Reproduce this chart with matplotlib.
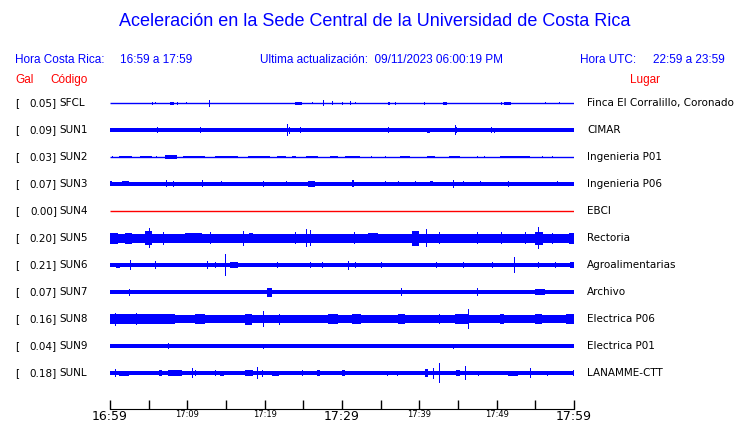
import matplotlib
matplotlib.use('Agg')
import matplotlib.pyplot as plt

W, H = 740, 423

codes = ['SFCL', 'SUN1', 'SUN2', 'SUN3', 'SUN4', 'SUN5', 'SUN6', 'SUN7', 'SUN8', 'SUN9', 'SUNL']
gal = [0.05, 0.09, 0.03, 0.07, 0.00, 0.20, 0.21, 0.07, 0.16, 0.04, 0.18]
places = ['Finca El Corralillo, Coronado', 'CIMAR', 'Ingenieria P01', 'Ingenieria P06', 'EBCI',
          'Rectoria', 'Agroalimentarias', 'Archivo', 'Electrica P06', 'Electrica P01', 'LANAMME-CTT']

# background trace half-width (screen px)
base = [0.5, 1.6, 0.5, 1.7, 0.0, 4.5, 2.0, 1.8, 4.2, 1.6, 1.9]

# visible bursts: (start minute, end minute, half-amplitude px)
bursts = [
    [(5.4, 5.4, 1.5), (5.8, 5.8, 1), (7.8, 8.3, 1.5), (8.7, 8.7, 1.5), (9.8, 9.8, 1), (12.8, 12.9, 3.5),
     (23.9, 24.8, 1.5), (26.1, 26.1, 1), (27.6, 27.7, 3), (28.7, 28.7, 2), (30.0, 30.0, 1.5), (31.0, 31.0, 2),
     (31.7, 31.7, 1), (36.0, 36.2, 1.5), (36.9, 36.9, 1.5), (40.6, 40.7, 1.5), (43.1, 43.6, 1.5),
     (50.6, 50.6, 1.5), (51.0, 51.9, 1.5), (56.2, 56.2, 1), (58.0, 58.0, 1)],
    [(0.0, 6.0, 2), (6.1, 6.2, 3), (11.6, 11.8, 3), (22.9, 22.9, 6), (23.1, 23.1, 3.5), (24.6, 24.7, 3),
     (35.9, 36.0, 3), (41.0, 41.4, 2.5), (44.6, 44.6, 5), (44.8, 44.9, 3), (49.3, 49.3, 3), (49.7, 49.7, 2.5)],
    [(0.2, 0.2, 1.3), (1.1, 2.8, 1.3), (3.9, 5.4, 1.3), (6.0, 6.0, 1.3), (7.1, 8.6, 1.6), (9.5, 12.3, 1.3),
     (13.6, 16.6, 1.3), (17.9, 20.7, 1.3), (21.6, 22.8, 1.3), (23.5, 24.1, 1.3), (25.4, 26.9, 1.3),
     (28.4, 29.5, 1.3), (30.4, 32.3, 1.3), (33.8, 33.8, 1.3), (35.6, 35.7, 1.3), (37.5, 38.8, 1.3),
     (41.0, 42.0, 1.3), (43.8, 45.3, 1.3), (47.4, 47.4, 1.3), (48.3, 48.3, 1.3), (50.4, 54.3, 1.3),
     (55.8, 55.8, 1.3), (57.1, 57.1, 1.3)],
    [(0.0, 0.3, 2.5), (1.5, 2.4, 2.5), (4.1, 5.8, 2.3), (7.3, 7.4, 3.5), (8.2, 8.2, 3), (11.9, 12.0, 3.5),
     (14.4, 14.4, 2.5), (16.6, 17.2, 2.3), (19.8, 19.9, 3), (22.8, 22.8, 2.5), (25.6, 26.5, 2.8),
     (31.3, 31.5, 3.5), (35.6, 35.6, 2.5), (37.3, 37.3, 2.5), (39.4, 39.4, 2.5), (41.4, 41.8, 2.5),
     (44.4, 44.5, 4), (45.7, 45.7, 2.5), (47.8, 47.8, 2.5), (51.5, 51.5, 3), (52.8, 54.1, 2.3),
     (57.8, 57.8, 2.5)],
    [],
    [(0.0, 1.0, 5.5), (2.0, 2.8, 5.5), (4.5, 5.4, 7), (5.0, 5.1, 10), (6.9, 7.0, 6.5), (9.7, 11.9, 5.3),
     (12.9, 13.0, 6), (17.2, 17.3, 7.5), (18.0, 18.5, 5.3), (23.9, 24.0, 6), (25.4, 25.5, 9), (25.9, 26.0, 8),
     (31.5, 31.6, 6), (33.4, 34.7, 5.3), (39.0, 39.9, 7.5), (40.9, 41.0, 9), (42.5, 42.6, 6), (47.4, 47.5, 6),
     (50.6, 50.6, 6), (53.7, 53.8, 6), (55.0, 56.0, 6.5), (55.4, 55.5, 11), (57.1, 57.2, 5.5), (59.3, 60.0, 5.5)],
    [(0.8, 1.3, 2.5), (2.6, 2.7, 5), (5.8, 5.9, 4), (12.5, 12.6, 4), (13.6, 13.7, 3), (14.9, 15.0, 11),
     (15.5, 16.6, 2.6), (21.6, 21.6, 3), (25.9, 26.0, 3), (27.4, 27.6, 2.7), (30.8, 30.9, 4.5), (31.7, 31.8, 3),
     (35.1, 35.1, 3), (42.2, 42.2, 3), (45.7, 45.7, 3), (49.4, 49.4, 3), (52.2, 52.3, 8),
     (55.4, 55.4, 3), (57.5, 57.6, 3), (59.5, 60.0, 2.6)],
    [(1.1, 3.7, 2.3), (2.5, 2.6, 3.5), (5.0, 7.1, 2.3), (9.5, 10.6, 2.3), (12.3, 13.6, 2.3), (15.7, 17.4, 2.3),
     (20.3, 20.9, 4.5), (23.5, 25.2, 2.3), (26.9, 28.3, 2.3), (30.4, 32.1, 2.3), (35.1, 36.0, 2.3),
     (37.6, 37.7, 4), (39.4, 42.5, 2.3), (44.2, 45.0, 2.3), (47.4, 47.5, 4), (48.9, 51.1, 2.3),
     (55.0, 56.3, 2.8), (58.4, 59.7, 2.3)],
    [(0.0, 8.4, 5), (0.7, 0.8, 6.5), (3.4, 3.5, 6), (11.0, 12.3, 4.8), (17.5, 18.3, 5.5), (19.8, 19.9, 8),
     (21.8, 21.9, 5.5), (28.2, 29.5, 4.8), (31.3, 32.5, 5.3), (37.3, 38.1, 4.8), (42.5, 42.6, 5),
     (44.6, 46.3, 5.3), (46.3, 46.4, 10), (50.4, 51.0, 4.8), (55.0, 55.8, 5.3), (59.0, 60.0, 4.8)],
    [(7.5, 7.6, 3), (19.8, 19.8, 2.5), (33.6, 33.6, 2), (44.4, 44.4, 2.5)],
    [(0.6, 0.7, 4), (1.1, 2.4, 2.5), (6.3, 6.7, 3), (7.5, 9.3, 2.6), (10.6, 10.7, 5), (11.0, 11.1, 3),
     (13.6, 13.7, 3), (14.2, 14.8, 2.5), (17.5, 18.5, 3.2), (19.0, 19.1, 6), (19.6, 19.7, 3.5), (20.9, 21.8, 2.5),
     (24.8, 24.9, 3), (26.8, 27.2, 3.2), (30.0, 30.4, 3.2), (35.8, 35.9, 2.5), (37.1, 37.2, 2.5),
     (40.7, 41.1, 4), (41.8, 41.9, 5.5), (42.6, 42.7, 10), (44.8, 45.3, 3.2), (45.9, 46.0, 7),
     (47.6, 47.7, 2.5), (51.5, 52.8, 2.5), (54.3, 54.4, 5), (56.5, 56.6, 2.5), (59.9, 60.0, 3)],
]

major_labels = {0: '16:59', 30: '17:29', 60: '17:59'}
minor_labels = {10: '17:09', 20: '17:19', 40: '17:39', 50: '17:49'}

BLUE = '#0000ff'
RED = '#ff0000'


def fx(x):
    return x / W


def fy(y):
    return 1 - y / H


fig = plt.figure(figsize=(W / 100, H / 100), dpi=100)

# trace area: x in minutes, y in screen pixels (top down)
ax = fig.add_axes([fx(110), fy(409), fx(574) - fx(110), fy(90) - fy(409)])
ax.set_xlim(0, 60)
ax.set_ylim(409, 90)

row_y = [103 + 27 * i for i in range(len(codes))]

for i, y in enumerate(row_y):
    if codes[i] == 'SUN4':
        ax.hlines(y, 0, 60, color=RED, lw=1)
        continue
    if base[i] <= 0.6:
        ax.hlines(y, 0, 60, color=BLUE, lw=1)
    else:
        ax.fill_between([0, 60], y - base[i], y + base[i], color=BLUE, lw=0)
    if bursts[i]:
        t0 = [b[0] for b in bursts[i]]
        wd = [max(b[1] - b[0], 0.13) for b in bursts[i]]
        hh = [b[2] for b in bursts[i]]
        ax.bar(t0, [2 * h for h in hh], width=wd, bottom=[y - h for h in hh],
               align='edge', color=BLUE, lw=0)

for s in ['top', 'left', 'right']:
    ax.spines[s].set_visible(False)
ax.spines['bottom'].set_color('black')
ax.set_yticks([])

ticks = list(range(0, 61, 5))
labels = [major_labels.get(t, minor_labels.get(t, '')) for t in ticks]
ax.set_xticks(ticks)
ax.set_xticklabels(labels)
ax.tick_params(axis='x', direction='in', length=6.5, width=1, pad=0.5, color='black')
for t, lab in zip(ticks, ax.get_xticklabels()):
    lab.set_fontsize(9 if t in major_labels else 6)

# header text
hdr = dict(family='Liberation Sans', color=BLUE, va='center')
fig.text(fx(375), fy(22), 'Aceleración en la Sede Central de la Universidad de Costa Rica',
         fontsize=13, ha='center', **hdr)
fig.text(fx(15), fy(60), 'Hora Costa Rica:', fontsize=8.5, ha='left', **hdr)
fig.text(fx(120), fy(60), '16:59 a 17:59', fontsize=8.5, ha='left', **hdr)
fig.text(fx(260), fy(60), 'Ultima actualización:  09/11/2023 06:00:19 PM', fontsize=8.5, ha='left', **hdr)
fig.text(fx(580), fy(60), 'Hora UTC:', fontsize=8.5, ha='left', **hdr)
fig.text(fx(725), fy(60), '22:59 a 23:59', fontsize=8.5, ha='right', **hdr)

red = dict(family='Liberation Sans', color=RED, va='center', fontsize=8.5)
fig.text(fx(15), fy(80), 'Gal', ha='left', **red)
fig.text(fx(50), fy(80), 'Código', ha='left', **red)
fig.text(fx(645), fy(80), 'Lugar', ha='center', **red)

# row labels
for i, y in enumerate(row_y):
    fig.text(fx(15), fy(y), '[', fontsize=7.5, ha='left', va='center')
    fig.text(fx(57), fy(y), f'{gal[i]:.2f}]', fontsize=7.5, ha='right', va='center')
    fig.text(fx(59), fy(y), codes[i], fontsize=7.5, ha='left', va='center')
    fig.text(fx(587), fy(y), places[i], fontsize=7.5, ha='left', va='center')

fig.savefig('out.png', dpi=100)
